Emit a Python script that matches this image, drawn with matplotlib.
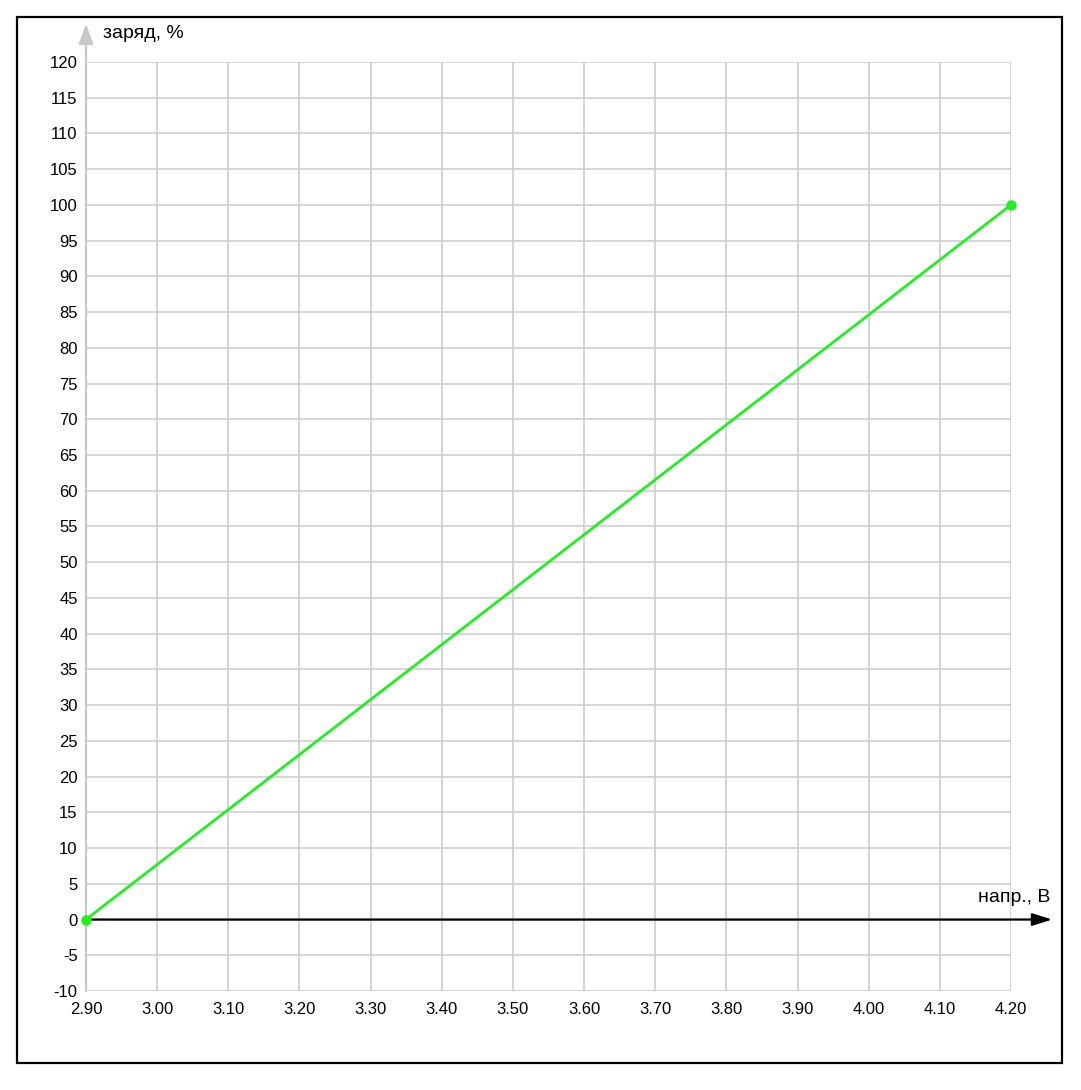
import numpy as np
import matplotlib
matplotlib.use("Agg")
import matplotlib.pyplot as plt
from matplotlib.patches import Rectangle

# data
voltage = [2.90, 4.20]
charge = [0, 100]
x_ticks = [2.90, 3.00, 3.10, 3.20, 3.30, 3.40, 3.50, 3.60, 3.70, 3.80, 3.90, 4.00, 4.10, 4.20]
y_ticks = list(range(-10, 121, 5))
x_label = "напр., В"
y_label = "заряд, %"

plt.rcParams['font.family'] = ['Liberation Sans', 'DejaVu Sans']

W, H = 1081, 1090
fig = plt.figure(figsize=(W / 100, H / 100), dpi=100)

def fx(px):
    return px / W

def fy(py):
    return 1 - py / H

# outer frame
fig.patches.append(Rectangle((fx(17), fy(1063)), fx(1062) - fx(17), fy(17) - fy(1063),
                             transform=fig.transFigure, fill=False,
                             edgecolor="black", lw=1.6))

left, right, top, bottom = 86, 1011, 62, 991
ax = fig.add_axes([fx(left), fy(bottom), fx(right) - fx(left), fy(top) - fy(bottom)])
ax.set_xlim(2.90, 4.20)
ax.set_ylim(-10, 120)
for s in ax.spines.values():
    s.set_visible(False)

ax.set_xticks(x_ticks)
ax.set_xticklabels([f"{v:.2f}" for v in x_ticks])
ax.set_yticks(y_ticks)
ax.set_yticklabels([str(v) for v in y_ticks])
ax.tick_params(axis="both", which="both", length=0, labelsize=12, colors="black")
ax.tick_params(axis="x", pad=8)
ax.tick_params(axis="y", pad=6)

gc = "#cccccc"
ax.grid(axis="x", which="major", color=gc, lw=1.2)
ax.grid(axis="y", which="major", color=gc, lw=1.1)
ax.set_axisbelow(True)

# y axis (gray, arrow)
ax.annotate("", xy=(2.90, 125.3), xytext=(2.90, -10),
            arrowprops=dict(arrowstyle="-|>,head_length=0.8,head_width=0.3",
                            color="#c8c8c8", lw=1.6, mutation_scale=15,
                            shrinkA=0, shrinkB=0),
            annotation_clip=False)
# x axis (black, arrow at zero)
ax.annotate("", xy=(4.258, 0), xytext=(2.90, 0),
            arrowprops=dict(arrowstyle="-|>,head_length=0.8,head_width=0.25",
                            color="black", lw=1.6, mutation_scale=15,
                            shrinkA=0, shrinkB=0),
            annotation_clip=False, zorder=3)

ax.plot(voltage, charge, color="#22ee22", lw=2, marker="o", ms=6.5,
        clip_on=False, zorder=4)

fig.text(fx(103), fy(33), y_label, fontsize=14, ha="left", va="center")
fig.text(fx(1050), fy(897), x_label, fontsize=14, ha="right", va="center")

fig.savefig("out.png", dpi=100)
